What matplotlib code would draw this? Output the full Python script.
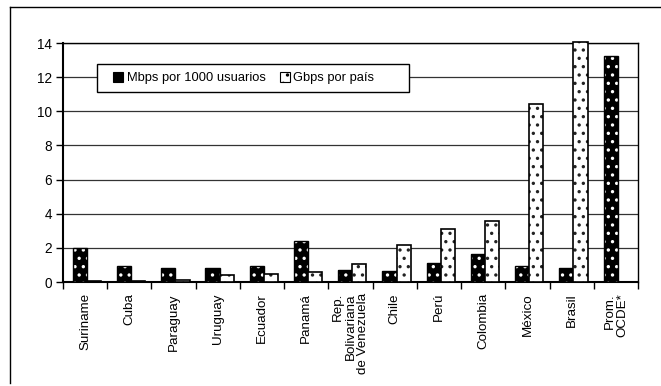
import matplotlib
matplotlib.use('Agg')
import matplotlib.pyplot as plt
from matplotlib.patches import Patch, Rectangle
from matplotlib.lines import Line2D
import numpy as np

plt.rcParams['font.family'] = ['Liberation Sans', 'DejaVu Sans']
plt.rcParams['hatch.linewidth'] = 1.2

paises = ['Suriname', 'Cuba', 'Paraguay', 'Uruguay', 'Ecuador', 'Panamá',
          'Rep.\nBolivariana\nde Venezuela', 'Chile', 'Perú', 'Colombia',
          'México', 'Brasil', 'Prom.\nOCDE*']
mbps_1000 = [2.0, 0.92, 0.8, 0.8, 0.92, 2.4, 0.72, 0.62, 1.1, 1.62, 0.92, 0.8, 13.22]
gbps_pais = [0.08, 0.07, 0.09, 0.4, 0.47, 0.6, 1.04, 2.15, 3.13, 3.58, 10.4, 14.08, 0]

W, H = 661, 386
f = plt.figure(figsize=(6.61, 3.86), dpi=100)
ax = f.add_axes([63/W, 1-282/H, 575/W, 239/H])

x = np.arange(len(paises))
w = 0.32
ax.bar(x + 0.22, mbps_1000, width=w, align='edge', color='black', edgecolor='white',
       linewidth=0, hatch='..', zorder=3)
ax.bar(x + 0.22, mbps_1000, width=w, align='edge', color='none', edgecolor='black',
       linewidth=1.0, zorder=3)
ax.bar(x + 0.54, gbps_pais, width=w, align='edge', color='white', edgecolor='#222222',
       linewidth=0, hatch='..', zorder=3, clip_on=False)
ax.bar(x + 0.54, gbps_pais, width=w, align='edge', color='none', edgecolor='black',
       linewidth=1.2, zorder=3, clip_on=False)

ax.set_xlim(0, len(paises))
ax.set_ylim(0, 14)
ax.set_yticks(range(0, 15, 2))
ax.yaxis.grid(True, color='#333333', linewidth=0.9)
ax.set_axisbelow(True)

ax.set_xticks(x + 0.5)
ax.set_xticklabels(paises, rotation=90, va='top', ha='center', multialignment='right',
                   fontsize=9.6, linespacing=1.05)
ax.tick_params(axis='x', length=0, pad=8)
ax.set_xticks(np.arange(len(paises) + 1), minor=True)
ax.tick_params(axis='x', which='minor', length=5, width=1, direction='out')
ax.tick_params(axis='y', length=5, width=1, direction='out', labelsize=9.8, pad=3)

for s in ['left', 'bottom']:
    ax.spines[s].set_linewidth(1.5)
for s in ['top', 'right']:
    ax.spines[s].set_linewidth(1.0)

# legend box (Excel style, wider than its content)
f.add_artist(Rectangle((97/W, 1-92/H), 312/W, 28/H, transform=f.transFigure,
                       facecolor='white', edgecolor='black', linewidth=1.0, zorder=4))
h1 = Patch(facecolor='black', edgecolor='black', linewidth=0.8)
h2 = Patch(facecolor='white', edgecolor='black', hatch='..', linewidth=0.8)
leg = f.legend([h1, h2], ['Mbps por 1000 usuarios', 'Gbps por país'], ncol=2,
               loc='center left', bbox_to_anchor=(113/W, 1-78/H), fontsize=9.3,
               frameon=False, handlelength=0.8, handleheight=0.8, handletextpad=0.25,
               columnspacing=1.1, borderpad=0, borderaxespad=0)
leg.set_zorder(5)

f.add_artist(Line2D([10/W, 10/W], [1-7/H, 1-383/H], color='black', linewidth=1.0))
f.add_artist(Line2D([10/W, 1.0], [1-7/H, 1-7/H], color='black', linewidth=1.0))

f.savefig('out.png', dpi=100)
